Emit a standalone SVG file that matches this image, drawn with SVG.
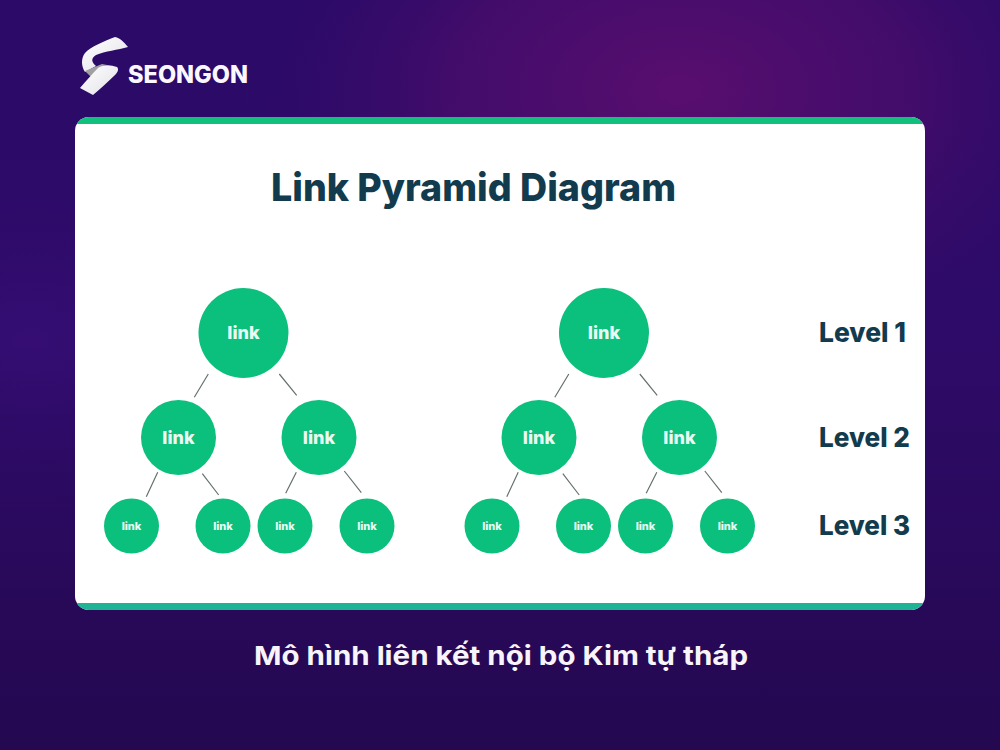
<svg xmlns="http://www.w3.org/2000/svg" width="1000" height="750" viewBox="0 0 1000 750">
<defs>
<linearGradient id="bg" x1="0" y1="0" x2="0" y2="1"><stop offset="0" stop-color="#2b0a68"/><stop offset="0.45" stop-color="#2e0b68"/><stop offset="1" stop-color="#240850"/></linearGradient>
<radialGradient id="glow" gradientUnits="userSpaceOnUse" cx="0" cy="0" r="1" gradientTransform="translate(680 90) scale(460 300)"><stop offset="0" stop-color="#590e6e"/><stop offset="0.5" stop-color="#4a0d6c" stop-opacity="0.75"/><stop offset="1" stop-color="#2c0a66" stop-opacity="0"/></radialGradient>
<radialGradient id="glowL" gradientUnits="userSpaceOnUse" cx="0" cy="0" r="1" gradientTransform="translate(30 340) scale(300 200)"><stop offset="0" stop-color="#3d1080" stop-opacity="0.5"/><stop offset="1" stop-color="#2c0a66" stop-opacity="0"/></radialGradient>
<linearGradient id="ribbon" x1="0" y1="0" x2="1" y2="1"><stop offset="0" stop-color="#ffffff"/><stop offset="1" stop-color="#e2e2e8"/></linearGradient>
<clipPath id="cardClip"><rect x="75" y="117" width="850" height="493" rx="14"/></clipPath>
</defs>
<style>
.node{fill:#0bbf7c}
.conn{stroke:#66716f;stroke-width:1.200;fill:none}
text{font-family:"Inter","Lato","Liberation Sans",sans-serif;font-weight:800}
.l1{fill:#eafaf3;font-size:18px;text-anchor:middle}
.l3{fill:#eafaf3;font-size:11px;text-anchor:middle}
.lev{fill:#123b4e;font-size:26.500px;text-anchor:middle}
</style>
<rect width="1000" height="750" fill="url(#bg)"/>
<rect width="1000" height="750" fill="url(#glowL)"/>
<rect width="1000" height="750" fill="url(#glow)"/>
<g id="logo">
<path d="M115 37C105 41 90 47 85 53C81 58 81 66 85 72L96 66C91 62 91 58 96 55C105 51 118 50 128 47C124 42 120 38 115 37Z" fill="url(#ribbon)"/>
<path d="M85 71L102 64L112 66L92 78Z" fill="#a0a0a4"/>
<path d="M117 67C110 65 103 65 98 68C92 74 86 81 80 88L93 95C101 88 108 82 115 75C118 72 119 69 117 67Z" fill="url(#ribbon)"/>
<text x="128" y="83" fill="#fbf7ff" font-size="24" textLength="120" lengthAdjust="spacingAndGlyphs">SEONGON</text>
</g>
<g id="card">
<rect x="75" y="117" width="850" height="493" rx="14" fill="#ffffff"/>
<g clip-path="url(#cardClip)"><rect x="75" y="117" width="850" height="7" fill="#10c07c"/><rect x="75" y="603" width="850" height="7" fill="#1eb394"/></g>
</g>
<text id="title" x="473.500" y="201" fill="#123b4e" font-size="38.500" text-anchor="middle" textLength="405" lengthAdjust="spacingAndGlyphs">Link Pyramid Diagram</text>
<g id="connectors">
<path class="conn" d="M208.300 374L194.300 397.300M279.300 374L296.700 395.300M157.700 472.300L146.300 496.700M202.300 473.700L218.700 495M296.300 472.300L285.700 493.300M344.300 471L361.300 492.700"/>
<path class="conn" d="M568.800 374L554.800 397.300M639.800 374L657.200 395.300M518.200 472.300L506.800 496.700M562.800 473.700L579.200 495M656.800 472.300L646.200 493.300M704.800 471L721.800 492.700"/>
</g>
<g id="n1"><circle class="node" cx="243.500" cy="333" r="45"/><text class="l1" x="243.500" y="339">link</text></g>
<g id="n2"><circle class="node" cx="178.500" cy="437.500" r="37.500"/><text class="l1" x="178.500" y="443.500">link</text></g>
<g id="n3"><circle class="node" cx="319" cy="437.500" r="37.500"/><text class="l1" x="319" y="443.500">link</text></g>
<g id="n4"><circle class="node" cx="131.500" cy="526" r="27.500"/><text class="l3" x="131.500" y="530">link</text></g>
<g id="n5"><circle class="node" cx="223" cy="526" r="27.500"/><text class="l3" x="223" y="530">link</text></g>
<g id="n6"><circle class="node" cx="285" cy="526" r="27.500"/><text class="l3" x="285" y="530">link</text></g>
<g id="n7"><circle class="node" cx="367" cy="526" r="27.500"/><text class="l3" x="367" y="530">link</text></g>
<g id="n8"><circle class="node" cx="604" cy="333" r="45"/><text class="l1" x="604" y="339">link</text></g>
<g id="n9"><circle class="node" cx="539" cy="437.500" r="37.500"/><text class="l1" x="539" y="443.500">link</text></g>
<g id="n10"><circle class="node" cx="679.500" cy="437.500" r="37.500"/><text class="l1" x="679.500" y="443.500">link</text></g>
<g id="n11"><circle class="node" cx="492" cy="526" r="27.500"/><text class="l3" x="492" y="530">link</text></g>
<g id="n12"><circle class="node" cx="583.500" cy="526" r="27.500"/><text class="l3" x="583.500" y="530">link</text></g>
<g id="n13"><circle class="node" cx="645.500" cy="526" r="27.500"/><text class="l3" x="645.500" y="530">link</text></g>
<g id="n14"><circle class="node" cx="727.500" cy="526" r="27.500"/><text class="l3" x="727.500" y="530">link</text></g>
<text id="lev1" class="lev" x="862.500" y="342" textLength="87" lengthAdjust="spacingAndGlyphs">Level 1</text>
<text id="lev2" class="lev" x="864.500" y="447" textLength="91" lengthAdjust="spacingAndGlyphs">Level 2</text>
<text id="lev3" class="lev" x="864.500" y="535" textLength="91" lengthAdjust="spacingAndGlyphs">Level 3</text>
<text id="caption" x="501" y="665" fill="#f8f4fb" font-size="26" text-anchor="middle" style="font-weight:700" textLength="494" lengthAdjust="spacingAndGlyphs">Mô hình liên kết nội bộ Kim tự tháp</text>
</svg>
